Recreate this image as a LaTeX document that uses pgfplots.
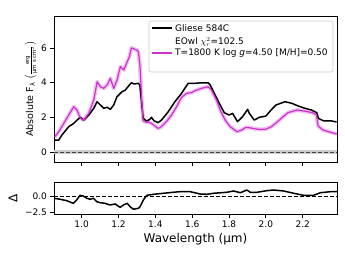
\documentclass[border=0pt]{standalone}
\usepackage{pgfplots}
\pgfplotsset{compat=1.18}
\usepackage{pgfplotstable}
\usepackage{fontspec}
\setmainfont{DejaVu Sans}
\definecolor{mag}{RGB}{204,51,204}

\pgfplotstableread{
x y
0.854 0.69
0.876 0.69
0.893 0.98
0.930 1.46
0.957 1.65
0.975 1.84
0.993 2.00
1.011 1.84
1.039 2.13
1.066 2.52
1.084 2.90
1.102 2.71
1.120 2.52
1.138 2.58
1.156 2.46
1.174 2.71
1.192 3.19
1.220 3.48
1.237 3.57
1.259 3.86
1.270 3.99
1.285 3.92
1.307 3.96
1.316 3.86
1.325 2.90
1.334 1.94
1.352 1.79
1.370 1.88
1.379 2.00
1.393 1.80
1.415 1.69
1.433 1.84
1.470 2.32
1.506 2.90
1.542 3.38
1.578 3.96
1.615 3.96
1.650 3.99
1.687 3.99
1.698 3.86
1.720 3.38
1.747 2.81
1.774 2.27
1.801 2.13
1.819 2.23
1.846 1.75
1.873 2.03
1.901 2.46
1.910 2.23
1.937 1.84
1.964 2.00
2.000 2.07
2.028 2.42
2.055 2.71
2.104 2.90
2.140 2.81
2.176 2.65
2.212 2.52
2.248 2.42
2.276 2.27
2.285 1.94
2.312 1.80
2.357 1.79
2.384 1.73
}\obs

\pgfplotstableread{
x y
0.854 0.88
0.876 1.17
0.903 1.65
0.930 2.13
0.957 2.61
0.975 2.42
0.993 1.94
1.011 1.84
1.039 2.23
1.066 3.00
1.084 4.05
1.102 3.76
1.120 3.67
1.138 3.86
1.156 4.25
1.174 3.67
1.192 4.15
1.210 4.92
1.229 4.73
1.247 5.20
1.259 5.49
1.270 6.00
1.282 5.95
1.299 5.88
1.308 5.78
1.317 4.92
1.326 3.00
1.334 1.80
1.354 1.70
1.361 1.75
1.379 1.65
1.415 1.36
1.433 1.46
1.460 1.75
1.488 2.13
1.515 2.61
1.542 3.15
1.569 3.38
1.596 3.42
1.615 3.53
1.650 3.67
1.687 3.76
1.705 3.57
1.732 3.00
1.752 2.42
1.779 1.84
1.806 1.46
1.843 1.17
1.870 1.27
1.890 1.42
1.910 1.40
1.940 1.34
1.970 1.30
2.000 1.32
2.030 1.46
2.060 1.72
2.090 2.00
2.120 2.27
2.170 2.42
2.220 2.34
2.257 2.25
2.275 2.13
2.283 1.50
2.310 1.27
2.340 1.17
2.385 1.04
}\model

\pgfplotstableread{
x y
0.850 -0.31
0.883 -0.47
0.919 -0.68
0.955 -1.10
0.973 -0.58
0.991 0.15
1.009 0.05
1.028 -0.31
1.046 -0.47
1.064 -0.31
1.082 -0.84
1.100 -1.00
1.127 -1.10
1.154 -1.36
1.182 -1.20
1.209 -1.72
1.227 -1.36
1.248 -1.10
1.263 -1.62
1.281 -2.03
1.308 -1.88
1.317 -1.62
1.335 -0.58
1.354 0.15
1.390 0.31
1.444 0.47
1.498 0.63
1.535 0.72
1.589 0.72
1.643 0.36
1.680 0.31
1.716 0.47
1.789 0.63
1.824 0.83
1.861 0.56
1.897 0.98
1.915 0.63
1.952 0.63
2.006 0.88
2.042 0.98
2.096 0.83
2.151 0.47
2.205 0.15
2.259 0.15
2.296 0.56
2.350 0.72
2.386 0.72
}\resid

\pgfplotsset{
  common/.style={
    scale only axis, width=283pt,
    xmin=0.85, xmax=2.386,
    xtick={1.0,1.2,1.4,1.6,1.8,2.0,2.2},
    tick align=outside, xtick pos=left, ytick pos=left,
    major tick length=3.5pt,
    every tick/.style={black, line width=0.8pt},
    axis line style={line width=0.8pt},
    tick label style={font=\fontsize{9}{10.8}\selectfont},
  }
}

\begin{document}
\begin{tikzpicture}
\path[use as bounding box] (0,0) rectangle (345pt,-259pt);
\begin{axis}[common,
  at={(54pt,-162pt)}, anchor=south west, height=146pt,
  ymin=-0.576, ymax=7.84,
  xticklabels={},
  ytick={0,2,4,6}, yticklabels={0,2,4,6},
  ylabel={Absolute F\textsubscript{λ} $\left(\frac{\mbox{\fontsize{5.5}{6}\selectfont erg}}{\mbox{\fontsize{5.5}{6}\selectfont µm s cm\textsuperscript{2}}}\right)$},
  ylabel style={at={(axis description cs:-0.081,0.5)}, anchor=center, font=\fontsize{9.5}{11}\selectfont},
]
\addplot[gray!40, line width=3.5pt, forget plot] coordinates {(0.85,0) (2.386,0)};
\addplot[black!75, dash pattern=on 4pt off 2pt, line width=1pt, forget plot] coordinates {(0.85,0) (2.386,0)};
\addplot[mag, opacity=0.3, line width=4pt, line join=round, forget plot] table {\model};
\addplot[black, line width=1.5pt, line join=round] table {\obs};
\addplot[mag, line width=1.2pt, line join=round] table {\model};
% legend
\draw[black!20, line width=0.6pt, fill=white, rounded corners=2pt]
  (axis description cs:0.3357,0.6164) rectangle (axis description cs:0.9859,0.9658);
\draw[black, line width=1.5pt] (axis description cs:0.3463,0.9178) -- (axis description cs:0.4170,0.9178);
\draw[mag, line width=1.2pt] (axis description cs:0.3463,0.7466) -- (axis description cs:0.4170,0.7466);
\node[anchor=west, inner sep=0pt, font=\fontsize{9}{10.5}\selectfont] at (axis description cs:0.4276,0.9178) {Gliese 584C};
\node[anchor=west, inner sep=0pt, font=\fontsize{9}{10.5}\selectfont] at (axis description cs:0.4276,0.8219) {EOwl $\chi^2_r$=102.5};
\node[anchor=west, inner sep=0pt, font=\fontsize{9}{10.5}\selectfont] at (axis description cs:0.4276,0.7466) {T=1800 K log \textit{g}=4.50 [M/H]=0.50};
\node[anchor=south west, inner sep=0pt, font=\fontsize{8.5}{10}\selectfont] at (rel axis cs:0,1) [yshift=2pt] {1e−12};
\end{axis}

\begin{axis}[common,
  at={(54pt,-214pt)}, anchor=south west, height=31.3pt,
  ymin=-2.77, ymax=2.125,
  xticklabels={1.0,1.2,1.4,1.6,1.8,2.0,2.2},
  ytick={-2.5,0}, yticklabels={−2.5,0.0},
  xlabel={Wavelength (µm)},
  xlabel style={at={(axis description cs:0.5,0)}, anchor=north, inner sep=0pt, yshift=-19pt, font=\fontsize{12}{14}\selectfont},
  ylabel={Δ},
  ylabel style={at={(axis description cs:-0.145,0.5)}, anchor=center, font=\fontsize{12}{14}\selectfont},
]
\addplot[black, dash pattern=on 4pt off 2pt, line width=1pt] coordinates {(0.85,0) (2.386,0)};
\addplot[black, line width=1.5pt, line join=round] table {\resid};
\node[anchor=south west, inner sep=0pt, font=\fontsize{8.5}{10}\selectfont] at (rel axis cs:0,1) [yshift=2pt] {1e−12};
\end{axis}
\end{tikzpicture}
\end{document}
